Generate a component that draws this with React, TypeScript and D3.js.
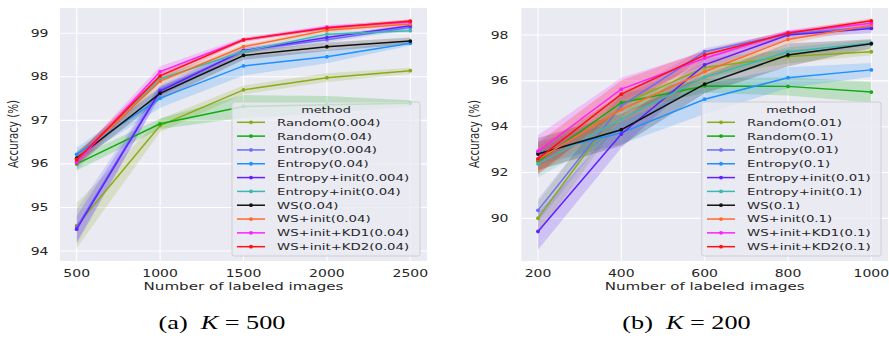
import React from "react";
import * as d3 from "d3";

// ---------- data ----------
const methods = [
  "Random", "Random", "Entropy", "Entropy", "Entropy+init", "Entropy+init",
  "WS", "WS+init", "WS+init+KD1", "WS+init+KD2",
];
const colors = [
  "#8aab18", "#10ad10", "#6b6ff5", "#1e90ff", "#6020ff", "#3cb8b0",
  "#111111", "#ff6a2a", "#ff20ff", "#ff1010",
];

// (a) K = 500
const xA = [500, 1000, 1500, 2000, 2500];
const paramsA = ["0.004", "0.04", "0.004", "0.04", "0.004", "0.04", "0.04", "0.04", "0.04", "0.04"];
const meanA = [
  [94.58, 96.88, 97.70, 97.98, 98.14],
  [96.00, 96.92, 97.32, 97.36, 97.39],
  [94.55, 97.70, 98.60, 98.85, 99.13],
  [96.22, 97.51, 98.25, 98.46, 98.77],
  [94.50, 97.67, 98.60, 98.90, 99.17],
  [96.05, 97.95, 98.58, 98.98, 99.06],
  [96.13, 97.62, 98.49, 98.69, 98.82],
  [96.10, 97.90, 98.69, 99.07, 99.21],
  [96.03, 98.12, 98.85, 99.14, 99.26],
  [96.09, 98.02, 98.85, 99.12, 99.28],
];
const ciA = [
  [0.52, 0.15, 0.10, 0.10, 0.07],
  [0.15, 0.12, 0.26, 0.20, 0.07],
  [0.40, 0.12, 0.06, 0.06, 0.05],
  [0.15, 0.22, 0.22, 0.15, 0.05],
  [0.30, 0.12, 0.06, 0.05, 0.04],
  [0.20, 0.08, 0.05, 0.05, 0.04],
  [0.15, 0.15, 0.10, 0.10, 0.08],
  [0.15, 0.10, 0.05, 0.05, 0.04],
  [0.15, 0.12, 0.05, 0.05, 0.05],
  [0.12, 0.10, 0.04, 0.04, 0.04],
];
const xTicksA = [500, 1000, 1500, 2000, 2500];
const yTicksA = [94, 95, 96, 97, 98, 99];

// (b) K = 200
const xB = [200, 400, 600, 800, 1000];
const paramsB = ["0.01", "0.1", "0.01", "0.1", "0.01", "0.1", "0.1", "0.1", "0.1", "0.1"];
const meanB = [
  [90.01, 94.95, 96.58, 97.06, 97.27],
  [92.49, 95.05, 95.78, 95.76, 95.51],
  [90.35, 94.91, 97.27, 98.05, 98.35],
  [92.85, 93.73, 95.20, 96.14, 96.48],
  [89.43, 93.68, 96.70, 98.00, 98.29],
  [92.38, 94.33, 96.16, 97.27, 97.65],
  [92.81, 93.87, 95.86, 97.13, 97.62],
  [92.57, 94.75, 96.40, 97.81, 98.43],
  [92.93, 95.64, 96.99, 98.12, 98.51],
  [92.60, 95.42, 97.13, 98.08, 98.62],
];
const ciB = [
  [0.70, 0.60, 0.40, 0.30, 0.15],
  [0.50, 0.40, 0.30, 0.40, 0.45],
  [0.50, 0.50, 0.15, 0.10, 0.10],
  [0.50, 0.50, 0.65, 0.45, 0.30],
  [0.80, 0.60, 0.30, 0.15, 0.20],
  [0.60, 0.50, 0.35, 0.20, 0.15],
  [0.70, 0.70, 0.40, 0.50, 0.20],
  [0.60, 0.60, 0.40, 0.20, 0.10],
  [0.70, 0.50, 0.30, 0.10, 0.15],
  [0.70, 0.60, 0.20, 0.10, 0.10],
];
const xTicksB = [200, 400, 600, 800, 1000];
const yTicksB = [90, 92, 94, 96, 98];

// ---------- styling ----------
const SX = 1.4;
const FONT = "DejaVu Sans";
const TXT = "#262626";

function ST({ x, y, size, anchor = "start", rotate = false, children, family = FONT, sx = SX, style }: any) {
  const t = `translate(${x},${y}) scale(${sx},1)${rotate ? " rotate(-90)" : ""}`;
  return (
    <g transform={t}>
      <text x={0} y={0} fontSize={size} fontFamily={family} textAnchor={anchor} fill={TXT} style={style}>
        {children}
      </text>
    </g>
  );
}

function Panel({ xs, means, cis, params, xTicks, yTicks, xDomain, yDomain, left, right, legend, yLabelX, yTickRight }: any) {
  const top = 8, bottom = 261;
  const x = d3.scaleLinear().domain(xDomain).range([left, right]);
  const y = d3.scaleLinear().domain(yDomain).range([bottom, top]);
  const line = d3.line<number>().x((_, i) => x(xs[i])).y((d) => y(d));
  const area = (m: number[], c: number[]) =>
    d3.area<number>()
      .x((_, i) => x(xs[i]))
      .y0((d, i) => y(d - c[i]))
      .y1((d, i) => y(d + c[i]))(m);
  const lg = legend;
  const rowH = 13.82;
  return (
    <g>
      <rect x={left} y={top} width={right - left} height={bottom - top} fill="#eaeaf2" />
      <clipPath id={`clip${left}`}>
        <rect x={left} y={top} width={right - left} height={bottom - top} />
      </clipPath>
      {xTicks.map((t: number) => (
        <line key={"gx" + t} x1={x(t)} x2={x(t)} y1={top} y2={bottom} stroke="#fff" strokeWidth={1.1} />
      ))}
      {yTicks.map((t: number) => (
        <line key={"gy" + t} x1={left} x2={right} y1={y(t)} y2={y(t)} stroke="#fff" strokeWidth={1.1} />
      ))}
      <g clipPath={`url(#clip${left})`}>
        {means.map((m: number[], i: number) => (
          <path key={"a" + i} d={area(m, cis[i]) || ""} fill={colors[i]} fillOpacity={0.2} stroke="none" />
        ))}
        {means.map((m: number[], i: number) => (
          <g key={"l" + i}>
            <path d={line(m) || ""} fill="none" stroke={colors[i]} strokeWidth={1.5} />
            {m.map((v, j) => (
              <circle key={j} cx={x(xs[j])} cy={y(v)} r={1.9} fill={colors[i]} />
            ))}
          </g>
        ))}
      </g>
      {xTicks.map((t: number) => (
        <ST key={"tx" + t} x={x(t)} y={277.3} size={10} anchor="middle">{t}</ST>
      ))}
      {yTicks.map((t: number) => (
        <ST key={"ty" + t} x={yTickRight} y={y(t) + 3.6} size={10} anchor="end">{t}</ST>
      ))}
      <ST x={(left + right) / 2 - 0} y={290} size={10.8} anchor="middle">Number of labeled images</ST>
      <ST x={yLabelX} y={134} size={10.3} anchor="middle" rotate>Accuracy (%)</ST>
      {/* legend */}
      <rect x={lg.x0} y={102} width={lg.x1 - lg.x0} height={154} rx={2.5} fill="#eaeaf2" fillOpacity={0.8} stroke="#cfcfcf" strokeWidth={1} />
      <ST x={lg.titleX} y={112.6} size={9.2} anchor="middle">method</ST>
      {methods.map((mname, i) => {
        const cy = 122.3 + i * rowH;
        return (
          <g key={"lg" + i}>
            <line x1={lg.lx} x2={lg.lx + 28} y1={cy} y2={cy} stroke={colors[i]} strokeWidth={1.5} />
            <circle cx={lg.lx + 14} cy={cy} r={1.9} fill={colors[i]} />
            <ST x={lg.tx} y={cy + 3.4} size={9.5}>{`${mname}(${params[i]})`}</ST>
          </g>
        );
      })}
    </g>
  );
}

function Caption({ cx, label, k }: any) {
  return (
    <g transform={`translate(${cx},329) scale(1.38,1)`}>
      <text x={0} y={0} fontSize={19} fontFamily="Liberation Serif, serif" textAnchor="middle" fill="#000">
        ({label}){"\u2002"}
        <tspan fontStyle="italic">K</tspan>
        {"\u2005=\u2005"}
        {k}
      </text>
    </g>
  );
}

export default function App() {
  return (
    <div style={{ position: "absolute", left: 0, top: 0 }}>
      <svg width={889} height={339} style={{ display: "block", background: "#fff" }}>
        <Panel
          xs={xA} means={meanA} cis={ciA} params={paramsA}
          xTicks={xTicksA} yTicks={yTicksA}
          xDomain={[400, 2600]} yDomain={[93.77, 99.58]}
          left={60} right={427}
          yLabelX={18} yTickRight={48.5}
          legend={{ x0: 232, x1: 420, titleX: 326, lx: 237, tx: 277 }}
        />
        <Panel
          xs={xB} means={meanB} cis={ciB} params={paramsB}
          xTicks={xTicksB} yTicks={yTicksB}
          xDomain={[160, 1040]} yDomain={[88.14, 99.18]}
          left={521.3} right={888}
          yLabelX={478.5} yTickRight={508.5}
          legend={{ x0: 701.7, x1: 881, titleX: 791, lx: 707, tx: 747 }}
        />
        <Caption cx={222} label="a" k="500" />
        <Caption cx={686.5} label="b" k="200" />
      </svg>
    </div>
  );
}
